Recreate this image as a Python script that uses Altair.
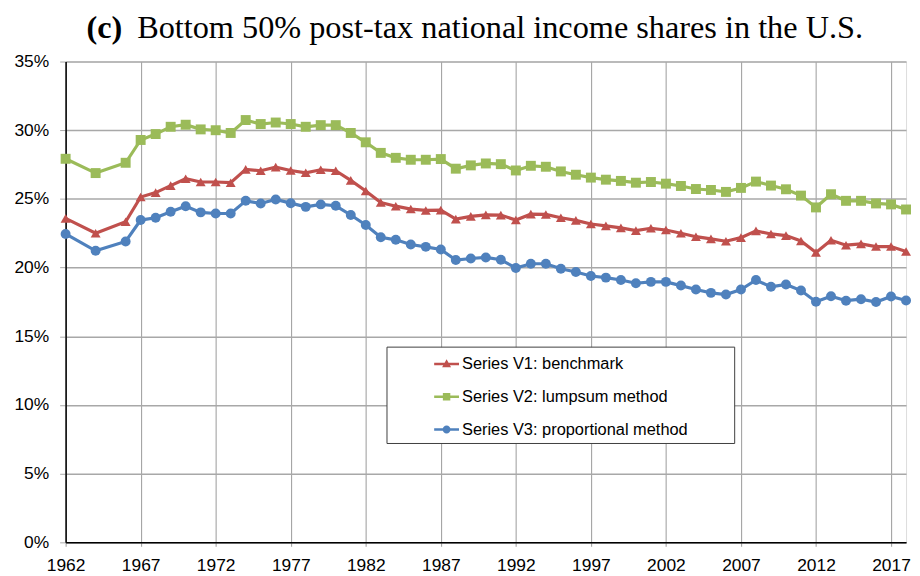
import altair as alt
import pandas as pd

years = [1962, 1964, 1966, 1967, 1968, 1969, 1970, 1971, 1972, 1973, 1974, 1975,
         1976, 1977, 1978, 1979, 1980, 1981, 1982, 1983, 1984, 1985, 1986, 1987,
         1988, 1989, 1990, 1991, 1992, 1993, 1994, 1995, 1996, 1997, 1998, 1999,
         2000, 2001, 2002, 2003, 2004, 2005, 2006, 2007, 2008, 2009, 2010, 2011,
         2012, 2013, 2014, 2015, 2016, 2017, 2018]

v1_benchmark = [23.58, 22.50, 23.34, 25.14, 25.46, 25.97, 26.47, 26.23, 26.23, 26.18, 27.15, 27.05,
                27.31, 27.07, 26.90, 27.12, 27.05, 26.35, 25.57, 24.74, 24.47, 24.26, 24.16, 24.18,
                23.53, 23.73, 23.84, 23.82, 23.46, 23.89, 23.87, 23.63, 23.44, 23.17, 23.04, 22.89,
                22.69, 22.86, 22.74, 22.50, 22.25, 22.09, 21.92, 22.18, 22.67, 22.45, 22.33, 21.94,
                21.10, 21.99, 21.63, 21.73, 21.53, 21.53, 21.17]

v2_lumpsum = [27.92, 26.88, 27.63, 29.29, 29.72, 30.25, 30.40, 30.06, 30.00, 29.80, 30.74, 30.45,
              30.56, 30.45, 30.25, 30.37, 30.37, 29.80, 29.12, 28.35, 27.99, 27.85, 27.85, 27.90,
              27.20, 27.44, 27.58, 27.53, 27.07, 27.41, 27.34, 27.00, 26.76, 26.55, 26.40, 26.31,
              26.18, 26.23, 26.11, 25.94, 25.72, 25.65, 25.51, 25.80, 26.26, 25.97, 25.70, 25.24,
              24.38, 25.34, 24.86, 24.86, 24.67, 24.60, 24.23]

v3_proportional = [22.45, 21.22, 21.90, 23.46, 23.63, 24.06, 24.47, 24.02, 23.94, 23.94, 24.86, 24.67,
                   24.96, 24.69, 24.42, 24.60, 24.50, 23.83, 23.10, 22.21, 22.02, 21.68, 21.51, 21.32,
                   20.55, 20.66, 20.74, 20.57, 19.97, 20.28, 20.28, 19.92, 19.68, 19.39, 19.27, 19.10,
                   18.86, 18.96, 18.96, 18.69, 18.40, 18.16, 18.04, 18.40, 19.10, 18.60, 18.77, 18.33,
                   17.51, 17.92, 17.59, 17.70, 17.49, 17.90, 17.61]

series_names = ["Series V1: benchmark", "Series V2: lumpsum method", "Series V3: proportional method"]
series_colors = ["#C0504D", "#9BBB59", "#4F81BD"]
series_shapes = ["triangle-up", "square", "circle"]
x_ticks = [1962, 1967, 1972, 1977, 1982, 1987, 1992, 1997, 2002, 2007, 2012, 2017]
y_ticks = [0, 5, 10, 15, 20, 25, 30, 35]
title_bold = "(c)"
title_main = "Bottom 50% post-tax national income shares in the U.S."

rows = []
for name, vals in zip(series_names, [v1_benchmark, v2_lumpsum, v3_proportional]):
    for yr, v in zip(years, vals):
        rows.append({"year": yr, "share": v, "series": name})
df = pd.DataFrame(rows)

AXIS_FONT = "Liberation Sans, Arial"
LEG_FONT = "Liberation Sans, Arial"

# legend symbols: a line segment with the series marker on top
line_seg = "M-1,-0.1H1V0.1H-1Z"
legend_paths = [
    line_seg + "M0,-0.38L0.36,0.26L-0.36,0.26Z",
    line_seg + "M-0.3,-0.3H0.3V0.3H-0.3Z",
    line_seg + "M-0.32,0A0.32,0.32 0 1,1 0.32,0A0.32,0.32 0 1,1 -0.32,0Z",
]

# trailing en-spaces (closed by a zero-width space so they are not trimmed) widen the legend box
legend = alt.Legend(
    orient="none", legendX=323, legendY=287, title=None,
    padding=5, symbolOffset=43, labelOffset=3, rowPadding=12,
    symbolSize=625, symbolStrokeWidth=0, symbolOpacity=1,
    strokeColor="#404040", fillColor="white",
    labelFont=LEG_FONT, labelFontSize=16.5, labelColor="#000000", labelLimit=600,
    labelExpr="datum.label + '\u2002\u2002\u2002\u2002\u2002\u200b'",
)

x = alt.X("year:Q", scale=alt.Scale(domain=[1962, 2018], nice=False, zero=False),
          axis=alt.Axis(values=x_ticks, format="d", title=None, grid=True,
                        gridColor="#9a9a9a", gridWidth=1,
                        domainColor="#000000", domainWidth=1.5,
                        tickColor="#9a9a9a", tickSize=4, labelPadding=10,
                        labelFont=AXIS_FONT, labelFontSize=17.5, labelColor="#000000",
                        labelFlush=False, labelOverlap=False))
y = alt.Y("share:Q", scale=alt.Scale(domain=[0, 35], nice=False),
          axis=alt.Axis(values=y_ticks, labelExpr="datum.value + '%'", title=None, grid=True,
                        gridColor="#a8a8a8", gridWidth=1.5,
                        domainColor="#000000", domainWidth=1.5,
                        tickColor="#a8a8a8", tickSize=6, labelPadding=11,
                        labelFont=AXIS_FONT, labelFontSize=17.5, labelColor="#000000"))

base = alt.Chart(df)
layers = []
for name, col in zip(series_names, series_colors):
    layers.append(
        base.transform_filter(alt.datum.series == name)
        .mark_line(strokeWidth=3.2, color=col)
        .encode(x=x, y=y)
    )
for name, col, shp in zip(series_names, series_colors, series_shapes):
    layers.append(
        base.transform_filter(alt.datum.series == name)
        .mark_point(filled=True, opacity=1, size=100, shape=shp, color=col)
        .encode(x=x, y=y)
    )

# legend-only layer (no marks drawn): colour + line/marker symbol shapes
legend_layer = base.transform_filter("false").mark_point(filled=True).encode(
    x=x, y=y,
    color=alt.Color("series:N", scale=alt.Scale(domain=series_names, range=series_colors), legend=legend),
    shape=alt.Shape("series:N", scale=alt.Scale(domain=series_names, range=legend_paths), legend=legend),
)
layers.append(legend_layer)

tdf = pd.DataFrame({"a": [title_bold], "b": [title_main]})
t1 = alt.Chart(tdf).mark_text(font="Liberation Serif", fontSize=32.5, fontWeight="bold",
                              align="right", baseline="alphabetic", color="#000000").encode(
    text="a:N", x=alt.value(57), y=alt.value(-23.5))
t2 = alt.Chart(tdf).mark_text(font="Liberation Serif", fontSize=32.5,
                              align="left", baseline="alphabetic", color="#000000").encode(
    text="b:N", x=alt.value(72), y=alt.value(-23.5))
layers += [t1, t2]

chart = alt.layer(*layers).properties(
    width=846, height=484,
    autosize=alt.AutoSizeParams(type="none"),
    padding={"left": 58, "top": 52, "right": 6, "bottom": 32},
).configure_view(stroke=None).configure(background="white")

chart.save("out.html", embed_options={"renderer": "svg", "actions": False})
